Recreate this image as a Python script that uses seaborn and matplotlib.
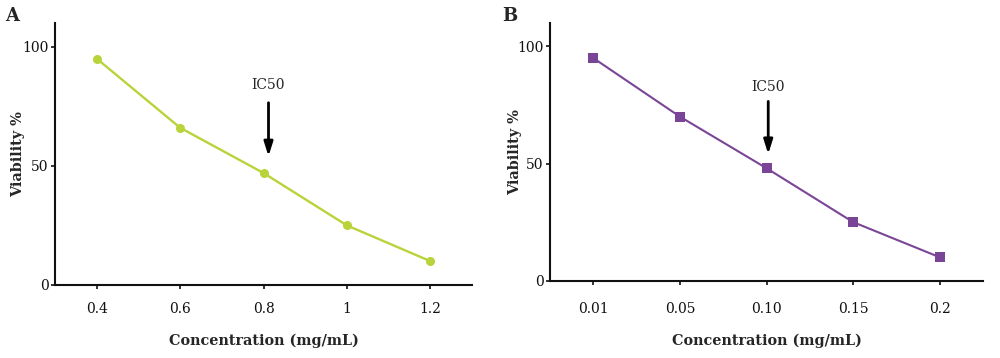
import matplotlib
matplotlib.use("Agg")
import matplotlib.pyplot as plt
import seaborn as sns
import pandas as pd

conc_a = [0.4, 0.6, 0.8, 1.0, 1.2]
conc_a_labels = ["0.4", "0.6", "0.8", "1", "1.2"]
viab_a = [95, 66, 47, 25, 10]

conc_b_labels = ["0.01", "0.05", "0.10", "0.15", "0.2"]
viab_b = [95, 70, 48, 25, 10]

sns.set_theme(style="ticks")
plt.rcParams['font.family'] = ['DejaVu Serif', 'Liberation Serif']

fig = plt.figure(figsize=(10, 3.58), dpi=100)
axA = fig.add_axes([0.055, 0.204, 0.417, 0.732])
axB = fig.add_axes([0.55, 0.216, 0.433, 0.720])

dfA = pd.DataFrame({"x": conc_a, "y": viab_a})
dfB = pd.DataFrame({"x": list(range(len(conc_b_labels))), "y": viab_b})

sns.lineplot(data=dfA, x="x", y="y", ax=axA, color="#b8d43a", linewidth=1.7,
             marker="o", markersize=6.5, markeredgewidth=0, markerfacecolor="#b8d43a")
sns.lineplot(data=dfB, x="x", y="y", ax=axB, color="#7b4597", linewidth=1.5,
             marker="s", markersize=6.5, markeredgewidth=0, markerfacecolor="#7b4597")

axA.set_xlim(0.3, 1.3)
axA.set_xticks(conc_a)
axA.set_xticklabels(conc_a_labels)
axB.set_xlim(-0.5, 4.5)
axB.set_xticks(range(len(conc_b_labels)))
axB.set_xticklabels(conc_b_labels)

setups = [(axA, 0.812, 84, -0.072, 9), (axB, 2.02, 82.5, -0.065, 12)]
for ax, ann_x, txt_y, ylab_x, xpad in setups:
    ax.set_ylim(0, 110)
    ax.set_yticks([0, 50, 100])
    sns.despine(ax=ax)
    for s in ["left", "bottom"]:
        ax.spines[s].set_linewidth(1.5)
        ax.spines[s].set_color("#111111")
    ax.tick_params(axis="both", direction="out", length=3, width=1.2, colors="#111111",
                   labelsize=10)
    ax.tick_params(axis="y", pad=1.5)
    ax.tick_params(axis="x", pad=xpad)
    ax.set_xlabel("Concentration (mg/mL)", fontsize=10.4, fontweight="bold")
    ax.set_ylabel("Viability %", fontsize=10.4, fontweight="bold")
    ax.yaxis.set_label_coords(ylab_x, 0.5)
    ax.annotate("", xy=(ann_x, 54.0), xytext=(ann_x, 76.5),
                arrowprops=dict(arrowstyle="-|>,head_length=0.7,head_width=0.22",
                                color="black", lw=2.0, shrinkA=0, shrinkB=0))
    ax.text(ann_x, txt_y, "IC50", ha="center", va="center", fontsize=10)

axA.xaxis.set_label_coords(0.5, -(334 - 285) / (0.732 * 358))
axB.xaxis.set_label_coords(0.5, -(334 - 280.7) / (0.720 * 358))

fig.text(0.005, 0.955, "A", fontsize=13, fontweight="bold", ha="left", va="center")
fig.text(0.502, 0.955, "B", fontsize=13, fontweight="bold", ha="left", va="center")

fig.savefig("out.png", dpi=100, facecolor="white")
